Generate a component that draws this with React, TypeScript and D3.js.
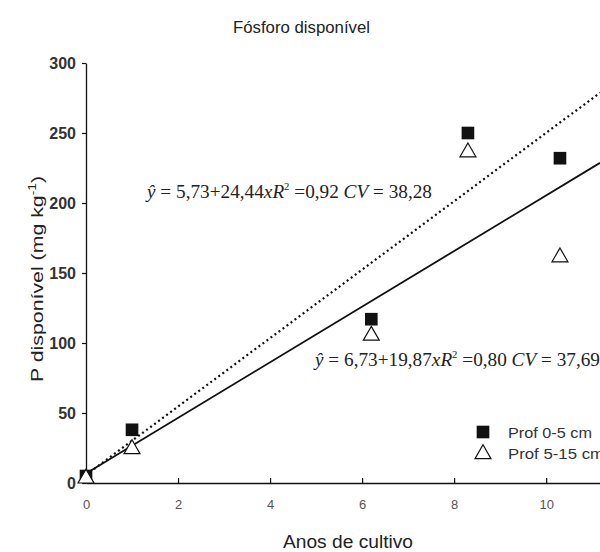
import { useRef, useEffect } from "react";
import * as d3 from "d3";

// data (points sit a little right of their tick marks)
const years = [0, 1, 6.2, 8.3, 10.3];
const prof0_5 = [5, 38, 117, 250, 232];
const prof5_15 = [4, 25, 106, 237, 162];
const xTicks = [0, 2, 4, 6, 8, 10];
const yTicks = [0, 50, 100, 150, 200, 250, 300];
const fitDotted = { a: 5.73, b: 24.44, r2: "0,92", cv: "38,28" };
const fitSolid = { a: 6.73, b: 19.87, r2: "0,80", cv: "37,69" };
const legendLabels = ["Prof 0-5 cm", "Prof 5-15 cm"];

const W = 600;
const H = 552;
const SANS = "Liberation Sans, Arial, sans-serif";
const SERIF = "Liberation Serif, Times New Roman, serif";

const fmt = (v: number) => v.toFixed(2).replace(".", ",");

export default function App() {
  const svgRef = useRef<SVGSVGElement>(null);

  useEffect(() => {
    const svg = d3.select(svgRef.current);
    svg.selectAll("*").remove();

    const x = d3.scaleLinear().domain([0, 11.17]).range([86, 600]);
    const y = d3.scaleLinear().domain([0, 300]).range([483, 63]);

    svg.append("rect").attr("width", W).attr("height", H).attr("fill", "#fff");

    // title
    svg
      .append("text")
      .attr("x", 233)
      .attr("y", 33)
      .attr("font-family", SANS)
      .attr("font-size", 16)
      .attr("textLength", 137)
      .attr("lengthAdjust", "spacingAndGlyphs")
      .attr("fill", "#222")
      .text("Fósforo disponível");

    // y axis
    const yAxis = svg
      .append("g")
      .attr("transform", `translate(${x(0)},0)`)
      .call(d3.axisLeft(y).tickValues(yTicks).tickSize(4).tickPadding(6).tickSizeOuter(0));
    yAxis.select(".domain").attr("stroke", "#111").attr("stroke-width", 1.3);
    yAxis.selectAll(".tick line").attr("stroke", "#111").attr("stroke-width", 1.2);
    yAxis
      .selectAll(".tick text")
      .attr("font-family", SANS)
      .attr("font-size", 16)
      .attr("font-weight", "bold")
      .attr("fill", "#333");

    // x axis, ticks pointing inward
    const xAxis = svg
      .append("g")
      .attr("transform", `translate(0,${y(0)})`)
      .call(d3.axisBottom(x).tickValues(xTicks).tickSize(-5).tickPadding(17).tickSizeOuter(0));
    xAxis.select(".domain").attr("stroke", "#111").attr("stroke-width", 1.3);
    xAxis.selectAll(".tick line").attr("stroke", "#111").attr("stroke-width", 1.2);
    xAxis
      .selectAll(".tick text")
      .attr("font-family", SANS)
      .attr("font-size", 13)
      .attr("fill", "#555");

    // axis titles
    svg
      .append("text")
      .attr("x", 283)
      .attr("y", 548)
      .attr("font-family", SANS)
      .attr("font-size", 18)
      .attr("textLength", 130)
      .attr("lengthAdjust", "spacingAndGlyphs")
      .attr("fill", "#222")
      .text("Anos de cultivo");

    const yl = svg
      .append("text")
      .attr("transform", "translate(43,382) rotate(-90)")
      .attr("font-family", SANS)
      .attr("font-size", 17)
      .attr("textLength", 206)
      .attr("lengthAdjust", "spacingAndGlyphs")
      .attr("fill", "#222");
    yl.append("tspan").text("P disponível (mg kg");
    yl.append("tspan").attr("dy", -7).attr("font-size", 11).text("-1");
    yl.append("tspan").attr("dy", 7).text(")");

    // regression lines
    const xs = [0, 11.17];
    const fitLine = (f: { a: number; b: number }) =>
      d3
        .line<number>()
        .x((d) => x(d))
        .y((d) => y(f.a + f.b * d))(xs);
    svg
      .append("path")
      .attr("d", fitLine(fitDotted))
      .attr("fill", "none")
      .attr("stroke", "#111")
      .attr("stroke-width", 2.2)
      .attr("stroke-dasharray", "2,3");
    svg
      .append("path")
      .attr("d", fitLine(fitSolid))
      .attr("fill", "none")
      .attr("stroke", "#111")
      .attr("stroke-width", 1.8);

    // markers
    const sq = d3.symbol().type(d3.symbolSquare).size(160);
    const tri = d3.symbol().type(d3.symbolTriangle).size(110);
    svg
      .selectAll(".sq")
      .data(years)
      .enter()
      .append("path")
      .attr("d", sq)
      .attr("transform", (d, i) => `translate(${x(d)},${y(prof0_5[i])})`)
      .attr("fill", "#111");
    svg
      .selectAll(".tri")
      .data(years)
      .enter()
      .append("path")
      .attr("d", tri)
      .attr("transform", (d, i) => `translate(${x(d)},${y(prof5_15[i]) + 1})`)
      .attr("fill", "#fff")
      .attr("stroke", "#111")
      .attr("stroke-width", 1.2);

    // equations
    const eq = (gx: number, gy: number, f: typeof fitDotted) => {
      const t = svg
        .append("text")
        .attr("x", gx)
        .attr("y", gy)
        .attr("font-family", SERIF)
        .attr("font-size", 18)
        .attr("textLength", 285)
        .attr("lengthAdjust", "spacingAndGlyphs")
        .attr("fill", "#222");
      t.append("tspan").attr("font-style", "italic").text("ŷ");
      t.append("tspan").text(` = ${fmt(f.a)}+${fmt(f.b)}`);
      t.append("tspan").attr("font-style", "italic").text("xR");
      t.append("tspan").attr("dy", -8).attr("font-size", 10).text("2");
      t.append("tspan").attr("dy", 8).text(` =${f.r2}  `);
      t.append("tspan").attr("font-style", "italic").text("CV");
      t.append("tspan").text(` = ${f.cv}`);
    };
    eq(147, 198, fitDotted);
    eq(315, 366, fitSolid);

    // legend
    svg.append("path").attr("d", sq).attr("transform", "translate(483,432)").attr("fill", "#111");
    svg
      .append("path")
      .attr("d", tri)
      .attr("transform", "translate(483,454)")
      .attr("fill", "#fff")
      .attr("stroke", "#111")
      .attr("stroke-width", 1.2);
    legendLabels.forEach((l, i) =>
      svg
        .append("text")
        .attr("x", 508)
        .attr("y", 438 + i * 21)
        .attr("font-family", SANS)
        .attr("font-size", 15)
        .attr("textLength", i === 0 ? 84 : 96)
        .attr("lengthAdjust", "spacingAndGlyphs")
        .attr("fill", "#333")
        .text(l)
    );
  }, []);

  return (
    <svg
      ref={svgRef}
      width={W}
      height={H}
      style={{ position: "absolute", left: 0, top: 0, display: "block" }}
    />
  );
}
